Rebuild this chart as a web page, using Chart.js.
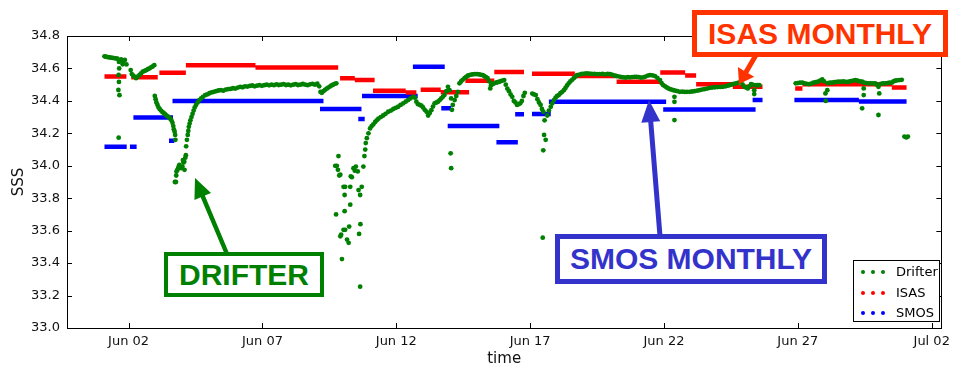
<!DOCTYPE html>
<html>
<head>
<meta charset="utf-8">
<script src="https://cdn.jsdelivr.net/npm/chart.js@4.4.1/dist/chart.umd.min.js"></script>
<style>
  html, body { margin: 0; padding: 0; background: #fff; }
  #wrap { position: relative; width: 956px; height: 370px; overflow: hidden; }
  #chart { position: absolute; left: 0; top: 0; }
  #arrows { position: absolute; left: 0; top: 0; }
  .note {
    position: absolute; box-sizing: border-box; background: #fff;
    font-family: 'Liberation Sans', Arial, sans-serif; font-weight: bold; font-size: 30px;
    display: flex; align-items: center; justify-content: center; white-space: nowrap;
  }
  #legend {
    position: absolute; left: 853px; top: 260px; width: 87px; height: 62px;
    box-sizing: border-box; border: 1px solid #000; background: #fff;
    font-family: 'DejaVu Sans', sans-serif; font-size: 13px; color: #000;
  }
  .row { position: absolute; left: 0; height: 16px; line-height: 16px; }
  .dot { position: absolute; top: 6px; width: 4px; height: 4px; border-radius: 50%; }
  .lbl { position: absolute; left: 42px; top: 0; }
</style>
</head>
<body>
<div id="wrap">
  <canvas id="chart" width="956" height="370"></canvas>
  <svg id="arrows" width="956" height="370"></svg>
  <div class="note" style="left:164px;top:252px;width:160px;height:45px;border:4px solid #008000;color:#008000;">DRIFTER</div>
  <div class="note" style="left:555px;top:234px;width:272px;height:50px;border:5px solid #3333cc;color:#3333cc;">SMOS MONTHLY</div>
  <div class="note" style="left:692px;top:10px;width:256px;height:47px;border:5px solid #ff3300;color:#ff3300;">ISAS MONTHLY</div>
  <div id="legend"></div>
</div>
<script>
// x values are days counted from 1 June (Jun 02 = 2, Jul 02 = 32)
const xTicks = [2, 7, 12, 17, 22, 27, 32];
const xTickLabels = ['Jun 02', 'Jun 07', 'Jun 12', 'Jun 17', 'Jun 22', 'Jun 27', 'Jul 02'];
const yTicks = [33.0, 33.2, 33.4, 33.6, 33.8, 34.0, 34.2, 34.4, 34.6, 34.8];

// drifter SSS, [day, sss]
const drifter = [
  [1.10,34.675],[1.16,34.672],[1.22,34.670],[1.28,34.668],[1.34,34.667],[1.40,34.665],[1.46,34.664],
  [1.52,34.662],[1.58,34.660],[1.64,34.640],[1.65,34.600],[1.63,34.560],[1.64,34.517],[1.62,34.467],
  [1.66,34.435],[1.63,34.173],[1.72,34.655],[1.78,34.626],[1.80,34.645],[1.86,34.652],[1.92,34.625],
  [2.08,34.590],[2.12,34.565],[2.17,34.555],[2.22,34.550],[2.28,34.540],[2.34,34.550],[2.41,34.560],
  [2.47,34.570],[2.53,34.580],[2.60,34.585],[2.66,34.590],[2.72,34.595],[2.78,34.600],[2.84,34.607],
  [2.90,34.612],[2.96,34.620],
  [2.98,34.430],[3.01,34.410],[3.04,34.390],[3.08,34.375],[3.12,34.360],[3.16,34.350],[3.21,34.340],
  [3.26,34.332],[3.31,34.326],[3.36,34.318],[3.41,34.310],[3.46,34.305],[3.51,34.298],[3.56,34.290],
  [3.60,34.280],[3.64,34.265],[3.67,34.245],[3.69,34.225],[3.72,34.210],[3.74,34.190],
  [3.75,34.160],[3.73,33.900],[3.77,33.900],[3.78,33.940],[3.79,33.965],[3.83,33.975],[3.85,33.985],
  [3.88,34.000],[3.90,34.005],[3.94,33.990],[3.97,33.985],[4.01,33.995],[4.03,34.035],[4.05,34.020],
  [4.08,34.025],[4.09,33.975],[4.12,34.050],[4.14,34.065],[4.15,34.120],
  [4.18,34.160],[4.21,34.190],[4.23,34.215],[4.25,34.240],[4.28,34.260],[4.31,34.280],[4.35,34.300],
  [4.39,34.320],[4.43,34.340],[4.47,34.360],[4.52,34.375],[4.58,34.390],[4.64,34.405],[4.71,34.415],
  [4.78,34.425],[4.86,34.435],[4.94,34.440],[5.02,34.447],[5.10,34.452],[5.18,34.455],[5.27,34.460],
  [5.36,34.464],[5.45,34.466],[5.54,34.463],[5.63,34.470],[5.72,34.472],[5.81,34.474],[5.90,34.478],
  [5.99,34.476],[6.08,34.482],[6.17,34.486],[6.26,34.484],[6.35,34.490],[6.44,34.488],[6.53,34.492],
  [6.62,34.495],[6.71,34.490],[6.80,34.494],[6.89,34.497],[6.98,34.493],[7.07,34.497],[7.16,34.500],
  [7.25,34.496],[7.34,34.500],[7.43,34.497],[7.52,34.502],[7.61,34.498],[7.70,34.500],[7.79,34.503],
  [7.88,34.498],[7.97,34.500],[8.06,34.496],[8.15,34.500],[8.24,34.503],[8.33,34.498],[8.42,34.500],
  [8.51,34.504],[8.60,34.500],[8.69,34.497],[8.78,34.502],[8.87,34.505],[8.96,34.500],[9.05,34.506],
  [9.12,34.490],[9.17,34.455],[9.22,34.450],[9.28,34.460],[9.34,34.468],[9.40,34.475],[9.46,34.482],
  [9.52,34.488],[9.58,34.495],[9.64,34.500],[9.70,34.505],[9.76,34.508],
  [9.72,34.000],[9.75,33.700],[9.78,34.000],[9.82,33.975],[9.84,34.060],[9.87,33.940],[9.91,33.945],
  [9.91,33.565],[9.94,33.575],[9.97,33.425],[10.03,33.605],[10.03,33.870],[10.07,33.820],[10.07,33.720],
  [10.09,33.870],[10.09,33.605],[10.16,33.545],[10.22,33.525],[10.24,33.625],[10.28,33.870],[10.28,33.760],
  [10.30,33.935],[10.34,33.930],[10.40,33.985],[10.45,33.970],[10.49,33.995],[10.56,33.965],[10.59,33.850],
  [10.61,33.580],[10.65,33.820],[10.65,33.255],[10.66,33.640],[10.71,33.870],[10.77,33.995],[10.81,34.060],
  [10.84,34.100],[10.86,34.140],[10.90,34.170],[10.96,34.200],[11.02,34.230],[11.08,34.245],[11.14,34.255],
  [11.21,34.270],[11.27,34.280],[11.33,34.290],[11.42,34.300],[11.51,34.310],[11.60,34.320],[11.70,34.333],
  [11.80,34.340],[11.89,34.350],[11.98,34.357],[12.07,34.364],[12.16,34.375],[12.26,34.385],[12.35,34.395],
  [12.44,34.405],[12.53,34.415],[12.63,34.425],[12.70,34.420],[12.75,34.395],[12.81,34.380],[12.88,34.375],
  [12.94,34.370],[13.00,34.360],[13.06,34.345],[13.13,34.333],[13.19,34.310],[13.25,34.325],[13.31,34.343],
  [13.37,34.365],[13.43,34.385],[13.50,34.390],[13.56,34.395],[13.62,34.405],[13.68,34.415],[13.74,34.425],
  [13.80,34.436],[13.87,34.460],[13.93,34.487],[13.99,34.466],[14.03,34.077],[14.05,33.985],[14.05,34.415],
  [14.08,34.345],[14.11,34.375],[14.18,34.405],[14.24,34.430],[14.30,34.456],[14.36,34.508],[14.42,34.520],
  [14.48,34.530],[14.55,34.540],[14.61,34.548],[14.67,34.555],[14.73,34.559],[14.80,34.562],[14.86,34.564],
  [14.92,34.565],[14.98,34.565],[15.04,34.565],[15.10,34.563],[15.17,34.560],[15.23,34.559],[15.29,34.552],
  [15.35,34.546],[15.41,34.540],[15.47,34.520],[15.51,34.477],[15.54,34.497],[15.60,34.503],[15.66,34.508],
  [15.72,34.512],[15.78,34.515],[15.85,34.518],[15.91,34.522],[15.97,34.525],[16.03,34.528],
  [16.09,34.500],[16.15,34.475],[16.21,34.460],[16.27,34.440],[16.33,34.425],[16.39,34.400],[16.45,34.390],
  [16.51,34.375],[16.57,34.380],[16.63,34.385],[16.69,34.400],[16.75,34.430],[16.80,34.450],
  [17.08,34.445],[17.14,34.440],[17.21,34.436],[17.27,34.410],[17.33,34.390],[17.39,34.375],[17.44,34.350],
  [17.49,34.333],[17.54,34.280],[17.52,34.190],[17.58,34.160],[17.49,34.095],[17.47,33.557],
  [17.64,34.310],[17.70,34.340],[17.77,34.364],[17.83,34.385],[17.89,34.405],[17.95,34.420],[18.01,34.430],
  [18.07,34.436],[18.13,34.447],[18.20,34.456],[18.26,34.466],[18.32,34.480],[18.38,34.495],[18.44,34.508],
  [18.50,34.520],[18.57,34.530],[18.63,34.540],[18.69,34.550],[18.75,34.559],[18.84,34.562],[18.93,34.566],
  [19.03,34.568],[19.12,34.570],[19.21,34.568],[19.30,34.566],[19.40,34.567],[19.50,34.565],[19.60,34.565],
  [19.70,34.566],[19.80,34.564],[19.90,34.566],[19.99,34.565],[20.08,34.560],[20.16,34.556],[20.24,34.553],
  [20.33,34.550],[20.41,34.547],[20.49,34.545],[20.57,34.544],[20.65,34.546],[20.73,34.545],[20.81,34.547],
  [20.90,34.548],[20.98,34.548],[21.06,34.546],[21.14,34.544],[21.23,34.545],[21.31,34.550],[21.40,34.556],
  [21.48,34.559],[21.57,34.557],[21.66,34.553],[21.75,34.542],[21.85,34.528],[21.91,34.510],[21.97,34.497],
  [22.04,34.490],[22.10,34.483],[22.16,34.477],[22.22,34.473],[22.28,34.470],[22.34,34.466],[22.39,34.425],
  [22.39,34.394],[22.39,34.282],[22.42,34.463],[22.50,34.460],[22.59,34.456],[22.68,34.457],[22.77,34.455],
  [22.86,34.456],[22.96,34.456],[23.05,34.458],[23.14,34.460],[23.24,34.463],[23.33,34.466],[23.42,34.470],
  [23.51,34.472],[23.61,34.476],[23.70,34.480],[23.80,34.482],[23.90,34.484],[24.00,34.485],[24.10,34.486],
  [24.20,34.487],[24.30,34.490],[24.38,34.494],[24.45,34.497],[24.52,34.500],[24.60,34.505],[24.69,34.508],
  [24.78,34.513],[24.88,34.518],[24.94,34.500],[25.00,34.487],[25.07,34.482],[25.13,34.477],[25.19,34.490],
  [25.25,34.503],[25.31,34.500],[25.37,34.466],[25.37,34.442],[25.43,34.497],[25.50,34.497],[25.56,34.497],
  [26.92,34.508],[27.00,34.510],[27.08,34.512],[27.17,34.512],[27.25,34.508],[27.33,34.505],[27.42,34.503],
  [27.50,34.507],[27.58,34.512],[27.67,34.515],[27.75,34.518],[27.83,34.525],[27.91,34.532],[27.98,34.520],
  [28.03,34.446],[28.04,34.400],[28.10,34.466],[28.12,34.510],[28.20,34.512],[28.28,34.512],[28.36,34.515],
  [28.45,34.517],[28.53,34.518],[28.62,34.518],[28.71,34.520],[28.80,34.517],[28.90,34.518],[28.98,34.522],
  [29.07,34.525],[29.15,34.528],[29.23,34.524],[29.32,34.520],[29.40,34.518],[29.40,34.354],[29.46,34.477],
  [29.46,34.436],[29.48,34.512],[29.56,34.510],[29.64,34.508],[29.72,34.508],[29.80,34.508],[29.89,34.508],
  [29.95,34.500],[30.01,34.487],[30.04,34.446],[30.01,34.313],[30.10,34.505],[30.18,34.508],[30.26,34.508],
  [30.34,34.510],[30.42,34.512],[30.51,34.512],[30.57,34.520],[30.63,34.524],[30.70,34.526],[30.79,34.528],
  [30.88,34.530],[30.98,34.180],[31.05,34.175],[31.11,34.180]
];

// ISAS monthly: constant level between two days
const isasFrom = [1.10, 2.10, 3.15, 4.14, 6.74, 9.90, 10.45, 11.13, 12.35, 12.91, 13.66, 14.58, 15.66, 17.07, 18.70, 20.23, 21.86, 22.79, 23.20, 24.57, 26.90, 27.17, 30.51];
const isasTo   = [1.92, 3.09, 4.14, 6.74, 9.83, 10.45, 11.19, 12.35, 12.75, 13.66, 14.72, 15.66, 16.77, 18.67, 20.23, 21.86, 22.79, 23.20, 24.57, 25.68, 27.17, 30.51, 31.06];
const isasSss  = [34.550, 34.545, 34.573, 34.620, 34.606, 34.540, 34.528, 34.462, 34.452, 34.468, 34.453, 34.524, 34.578, 34.567, 34.553, 34.518, 34.575, 34.556, 34.503, 34.487, 34.477, 34.503, 34.483];

// SMOS monthly
const smosFrom = [1.10, 2.05, 2.18, 3.51, 3.64, 9.15, 10.58, 10.72, 12.62, 13.68, 13.92, 15.74, 16.44, 17.07, 17.70, 21.97, 25.31, 26.87, 29.28];
const smosTo   = [1.93, 2.30, 3.66, 3.71, 9.28, 10.70, 10.82, 12.80, 13.81, 14.05, 15.85, 16.54, 16.77, 17.77, 22.08, 25.42, 25.68, 29.28, 31.06];
const smosSss  = [34.118, 34.118, 34.298, 34.155, 34.400, 34.350, 34.288, 34.430, 34.610, 34.354, 34.245, 34.145, 34.318, 34.319, 34.395, 34.347, 34.405, 34.405, 34.397];

function steps(from, to, vals) {
  const pts = [];
  vals.forEach((v, i) => {
    pts.push({ x: from[i], y: v }, { x: to[i], y: v }, { x: to[i], y: null });
  });
  return pts;
}

// frame + inward tick marks on all four sides, like the original axes
const framePlugin = {
  id: 'frame',
  afterDatasetsDraw(chart) {
    const { ctx, chartArea: a, scales: { x, y } } = chart;
    ctx.save();
    ctx.strokeStyle = '#000';
    ctx.lineWidth = 1;
    ctx.beginPath();
    xTicks.forEach(t => {
      const px = Math.round(x.getPixelForValue(t)) + 0.5;
      ctx.moveTo(px, a.bottom); ctx.lineTo(px, a.bottom - 5);
      ctx.moveTo(px, a.top); ctx.lineTo(px, a.top + 5);
    });
    yTicks.forEach(t => {
      const py = Math.round(y.getPixelForValue(t)) + 0.5;
      ctx.moveTo(a.left, py); ctx.lineTo(a.left + 5, py);
      ctx.moveTo(a.right, py); ctx.lineTo(a.right - 5, py);
    });
    ctx.stroke();
    ctx.strokeRect(Math.round(a.left) + 0.5, Math.round(a.top) + 0.5,
      Math.round(a.right - a.left), Math.round(a.bottom - a.top));
    ctx.restore();
  }
};

Chart.defaults.font.family = "'DejaVu Sans', sans-serif";
Chart.defaults.color = '#111';

new Chart(document.getElementById('chart'), {
  type: 'scatter',
  data: {
    datasets: [
      {
        label: 'Drifter', data: drifter.map(p => ({ x: p[0], y: p[1] })), order: 0,
        pointRadius: 2.4, pointBackgroundColor: '#008000', pointBorderWidth: 0
      },
      {
        label: 'ISAS', data: steps(isasFrom, isasTo, isasSss), order: 1,
        showLine: true, spanGaps: false, borderColor: '#ff0000', borderWidth: 4.5, pointRadius: 0
      },
      {
        label: 'SMOS', data: steps(smosFrom, smosTo, smosSss), order: 2,
        showLine: true, spanGaps: false, borderColor: '#0000ff', borderWidth: 4.5, pointRadius: 0
      }
    ]
  },
  options: {
    responsive: false,
    animation: false,
    events: [],
    layout: { padding: { top: 36, right: 9, left: 0, bottom: 0 } },
    plugins: { legend: { display: false }, tooltip: { enabled: false } },
    scales: {
      x: {
        type: 'linear', min: -0.3, max: 32.36,
        afterBuildTicks: s => { s.ticks = xTicks.map(v => ({ value: v })); },
        afterFit: s => { s.height = 42; },
        grid: { display: false, drawTicks: false },
        border: { display: false },
        ticks: {
          padding: 6, maxRotation: 0, font: { size: 13 },
          callback: v => xTickLabels[xTicks.indexOf(v)]
        },
        title: { display: true, text: 'time', font: { size: 15 }, padding: { top: 0, bottom: 2 } }
      },
      y: {
        min: 33.0, max: 34.8,
        afterBuildTicks: s => { s.ticks = yTicks.map(v => ({ value: v })); },
        afterFit: s => { s.width = 67; },
        grid: { display: false, drawTicks: false },
        border: { display: false },
        ticks: { padding: 7, font: { size: 13 }, callback: v => v.toFixed(1) },
        title: { display: true, text: 'SSS', font: { size: 15 }, padding: { top: 10, bottom: 0 } }
      }
    }
  },
  plugins: [framePlugin]
});

// legend (three dots per entry, as in the original)
const legendItems = [['Drifter', '#008000'], ['ISAS', '#ff0000'], ['SMOS', '#0000ff']];
const legend = document.getElementById('legend');
legendItems.forEach((item, i) => {
  const row = document.createElement('div');
  row.className = 'row';
  row.style.top = (3 + i * 20.5) + 'px';
  row.style.width = '85px';
  [7, 17, 27].forEach(dx => {
    const d = document.createElement('span');
    d.className = 'dot';
    d.style.left = dx + 'px';
    d.style.background = item[1];
    row.appendChild(d);
  });
  const t = document.createElement('span');
  t.className = 'lbl';
  t.textContent = item[0];
  row.appendChild(t);
  legend.appendChild(row);
});

// annotation arrows
function arrow(x1, y1, x2, y2, w, hl, hw, color) {
  const dx = x2 - x1, dy = y2 - y1, len = Math.hypot(dx, dy);
  const ux = dx / len, uy = dy / len, nx = -uy, ny = ux;
  const bx = x2 - ux * hl, by = y2 - uy * hl;
  const p = [
    [x1 + nx * w / 2, y1 + ny * w / 2], [bx + nx * w / 2, by + ny * w / 2],
    [bx + nx * hw / 2, by + ny * hw / 2], [x2, y2],
    [bx - nx * hw / 2, by - ny * hw / 2], [bx - nx * w / 2, by - ny * w / 2],
    [x1 - nx * w / 2, y1 - ny * w / 2]
  ];
  const poly = document.createElementNS('http://www.w3.org/2000/svg', 'polygon');
  poly.setAttribute('points', p.map(q => q.join(',')).join(' '));
  poly.setAttribute('fill', color);
  document.getElementById('arrows').appendChild(poly);
}
arrow(227, 254, 195, 178, 4.5, 20, 18, '#008000');
arrow(660, 236, 649, 100, 5, 22, 19, '#3333cc');
arrow(756, 55, 739, 84, 5, 14, 19, '#ff3300');
</script>
</body>
</html>
